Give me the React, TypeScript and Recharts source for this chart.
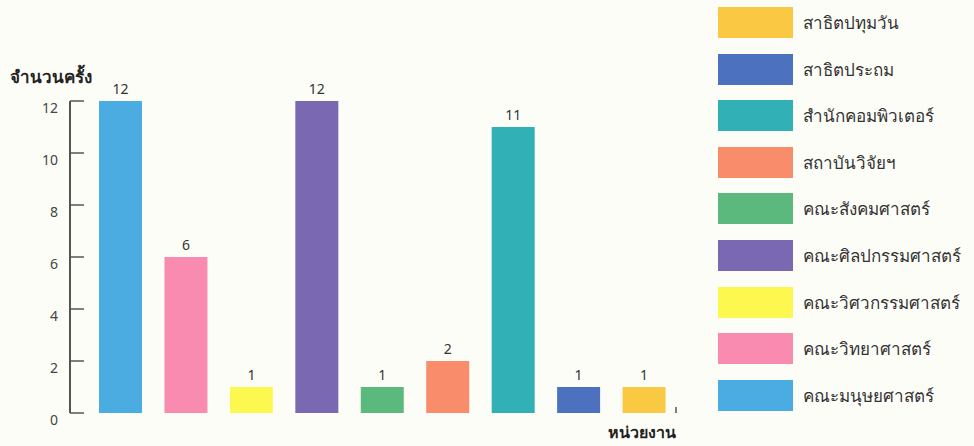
import React from 'react'
import { BarChart, Bar, XAxis, YAxis, Cell, LabelList, Label } from 'recharts'

// หน่วยงาน, left to right as drawn
const units = [
  'คณะมนุษยศาสตร์',
  'คณะวิทยาศาสตร์',
  'คณะวิศวกรรมศาสตร์',
  'คณะศิลปกรรมศาสตร์',
  'คณะสังคมศาสตร์',
  'สถาบันวิจัยฯ',
  'สำนักคอมพิวเตอร์',
  'สาธิตประถม',
  'สาธิตปทุมวัน',
]
const counts = [12, 6, 1, 12, 1, 2, 11, 1, 1]
const colors = ['#4BACE2', '#F98AB0', '#FDF850', '#7A68B3', '#5CB97D', '#F98C6A', '#31B0B5', '#4C72BF', '#FBC844']
const yTicks = [0, 2, 4, 6, 8, 10, 12]

const data = units.map((name, i) => ({ name, count: counts[i] }))

const font = '"Noto Sans", "DejaVu Sans", sans-serif'

function YTick(props: any) {
  const { x, y, payload } = props
  return (
    <g>
      <line x1={x} x2={x + 14} y1={y} y2={y} stroke="#555" strokeWidth={1.5} />
      <text x={x - 12} y={y + 12} textAnchor="end" fontSize={14} fill="#444" fontFamily={font}>
        {payload.value}
      </text>
    </g>
  )
}

function LegendBox() {
  // legend lists the units bottom-up
  const rows = units.map((name, i) => ({ name, color: colors[i] })).reverse()
  return (
    <div style={{ position: 'absolute', left: 718, top: 7 }}>
      {rows.map((r) => (
        <div key={r.name} style={{ display: 'flex', alignItems: 'center', height: 31, marginBottom: 15.6 }}>
          <div style={{ width: 75, height: 31, background: r.color }} />
          <span style={{ marginLeft: 10, fontSize: 17, color: '#333', fontFamily: font, whiteSpace: 'nowrap' }}>{r.name}</span>
        </div>
      ))}
    </div>
  )
}

export default function App() {
  return (
    <div style={{ position: 'fixed', left: 0, top: 0, width: 974, height: 446, background: '#FDFDF8' }}>
      <BarChart width={974} height={446} data={data} margin={{ top: 101, right: 297, bottom: 33, left: 10 }} barCategoryGap={22}>
        <XAxis
          dataKey="name"
          tick={false}
          tickLine={false}
          height={0}
          padding={{ left: 18, right: 0 }}
          axisLine={{ stroke: '#555', strokeWidth: 2 }}
        />
        <YAxis
          domain={[0, 12]}
          ticks={yTicks}
          width={60}
          tickSize={0}
          tickMargin={0}
          tickLine={false}
          tick={<YTick />}
          axisLine={{ stroke: '#555', strokeWidth: 2 }}
        >
          <Label
            content={(p: any) => {
              const vb = p.viewBox || { x: 10, y: 101, width: 60, height: 312 }
              const right = 676
              const bottom = vb.y + vb.height
              return (
                <g>
                  <text x={10} y={vb.y - 18} fontSize={17} fontWeight="bold" fill="#222" fontFamily={font}>
                    จำนวนครั้ง
                  </text>
                  <line x1={right} x2={right} y1={bottom} y2={bottom - 6} stroke="#555" strokeWidth={1.5} />
                  <text x={608} y={bottom + 25} fontSize={16} fontWeight="bold" fill="#222" fontFamily={font}>
                    หน่วยงาน
                  </text>
                </g>
              )
            }}
          />
        </YAxis>
        <Bar dataKey="count" barSize={43} isAnimationActive={false}>
          {data.map((d, i) => (
            <Cell key={d.name} fill={colors[i]} />
          ))}
          <LabelList dataKey="count" position="top" offset={7} fontSize={14} fill="#333" fontFamily={font} />
        </Bar>
      </BarChart>
      <LegendBox />
    </div>
  )
}
